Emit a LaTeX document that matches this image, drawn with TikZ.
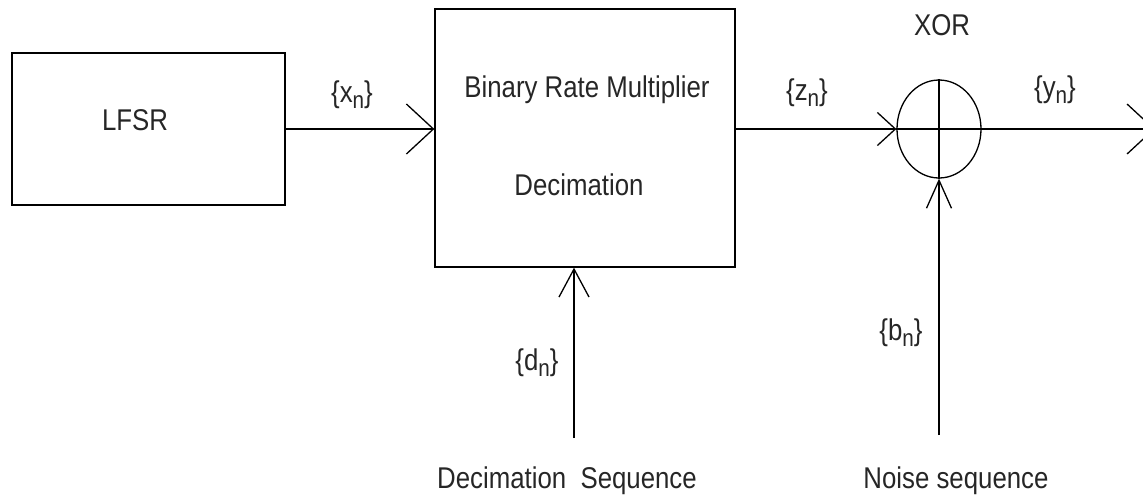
\documentclass[tikz,border=0pt]{standalone}
\usepackage{fontspec}
\setmainfont[FakeStretch=0.86]{Liberation Sans}
\usetikzlibrary{arrows.meta,shapes.geometric}
\newcommand\mysubn{\raisebox{-6pt}{\fontsize{24pt}{24pt}\selectfont n}}
\begin{document}
\begin{tikzpicture}[x=1pt,y=-1pt,
  every node/.style={font=\fontsize{30pt}{35pt}\selectfont, text=black!85},
  wire/.style={line width=1.3pt, line cap=butt},
  blockbox/.style={draw, line width=1.3pt, inner sep=0pt},
  lbl/.style={anchor=base, inner sep=0pt},
  bigtip/.style={-{Straight Barb[length=27pt,width=50pt,line width=1.3pt]}},
  midtip/.style={-{Straight Barb[length=18pt,width=33pt,line width=1.3pt]}},
  uptip/.style={-{Straight Barb[length=28pt,width=30pt,line width=1.3pt]}},
  uptipb/.style={-{Straight Barb[length=28pt,width=25pt,line width=1.3pt]}}]
\clip (0,0) rectangle (1143,496);
\useasboundingbox (0,0) rectangle (1143,496);

% blocks
\node[blockbox, minimum width=273pt, minimum height=152pt] (lfsr) at (148.5,129) {};
\node[blockbox, minimum width=300pt, minimum height=258pt] (brm) at (585,138) {};
\node[draw, line width=1.3pt, ellipse, minimum width=84pt, minimum height=98pt, inner sep=0pt] (xor) at (939,129) {};

% texts
\node[lbl] (tlfsr) at (135,130) {LFSR};
\node[lbl] (tbrm) at (587,97) {Binary Rate Multiplier};
\node[lbl] (tdec) at (579,195) {Decimation};
\node[lbl] (txor) at (942,35) {XOR};
\node[lbl] (tx) at (352,102) {\{x\mysubn\}};
\node[lbl] (tz) at (807,100) {\{z\mysubn\}};
\node[lbl] (ty) at (1055,97) {\{y\mysubn\}};
\node[lbl] (td) at (537,370) {\{d\mysubn\}};
\node[lbl] (tb) at (901,340) {\{b\mysubn\}};
\node[lbl] (tdseq) at (567,488) {Decimation\ \ Sequence};
\node[lbl] (tnseq) at (956,488) {Noise sequence};

% free ends
\coordinate (yout) at (1155,129);
\coordinate (dsrc) at (574,438);
\coordinate (bsrc) at (939,435);

% XOR cross
\draw[wire] (xor.north) -- (xor.south);
\draw[wire] (xor.west) -- (xor.east);

% connectors
\draw[wire, bigtip] (lfsr.east) -- (lfsr.east -| brm.west);
\draw[wire, midtip] (xor.west -| brm.east) -- (xor.west);
\draw[wire, bigtip] (xor.east) -- (yout);
\draw[wire, uptip] (dsrc) -- (dsrc |- brm.south);
\draw[wire, uptipb] (bsrc) -- (xor.south);
\end{tikzpicture}
\end{document}
